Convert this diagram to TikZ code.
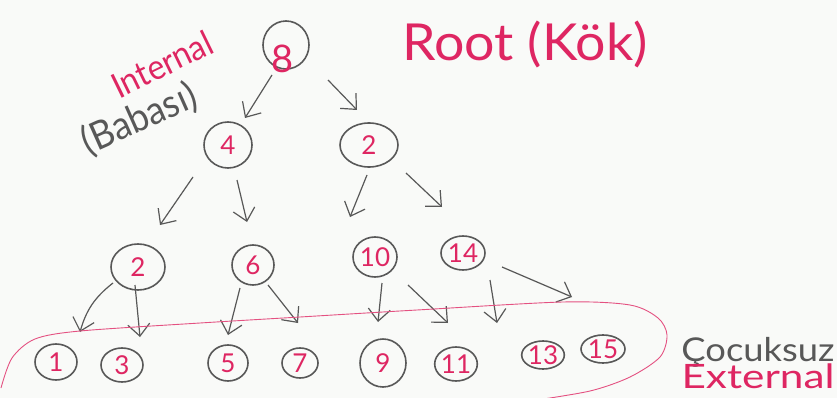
\documentclass[tikz,border=0pt]{standalone}
\usepackage{fontspec}
\usepackage{graphicx}
\setmainfont{Lato}
\usetikzlibrary{arrows.meta,shapes.geometric}
\definecolor{ink}{RGB}{222,38,98}
\definecolor{pencil}{RGB}{88,88,88}
\definecolor{paper}{RGB}{249,250,248}

\begin{document}
\begin{tikzpicture}[x=1pt,y=-1pt,
  nd/.style={ellipse, draw=pencil, line width=1.6pt, inner sep=0pt,
    text=ink, font=\fontsize{26}{26}\selectfont},
  arr/.style={draw=pencil, line width=1.2pt,
    -{Straight Barb[length=12pt,width=22pt]}},
  hand/.style={inner sep=0pt, anchor=center},
]
% sheet of paper
\fill[paper] (0,0) rectangle (837,398);
\useasboundingbox (0,0) rectangle (837,398);

% root, its digit written low across the circle
\node[nd, minimum width=46, minimum height=48] (n8) at (286,45)
  {\raisebox{-28pt}[0pt][0pt]{\hspace*{-6pt}\fontsize{38}{38}\selectfont 8}};
% level 1
\node[nd, minimum width=48, minimum height=46] (n4)  at (228,145) {4};
\node[nd, minimum width=58, minimum height=44] (n2a) at (369,145) {2};
% level 2
\node[nd, minimum width=54, minimum height=46] (n2b) at (138,267) {2};
\node[nd, minimum width=42, minimum height=40] (n6)  at (253,265) {6};
\node[nd, minimum width=44, minimum height=40] (n10) at (375,257) {10};
\node[nd, minimum width=44, minimum height=34] (n14) at (463,253) {14};
% leaves
\node[nd, minimum width=42, minimum height=36] (n1)  at (56,362)  {1};
\node[nd, minimum width=42, minimum height=34] (n3)  at (122,365) {3};
\node[nd, minimum width=40, minimum height=36] (n5)  at (228,363) {5};
\node[nd, minimum width=36, minimum height=30] (n7)  at (300,363) {7};
\node[nd, minimum width=46, minimum height=48] (n9)  at (383,363) {9};
\node[nd, minimum width=40, minimum height=34] (n11) at (456,364) {11};
\node[nd, minimum width=34, minimum height=28] (n13) at (543,355) {13};
\node[nd, minimum width=44, minimum height=28] (n15) at (603,349) {15};

% edges
\draw[arr] ([shift={(-14,30)}]n8.center)  -- ([shift={(17,-27)}]n4.center);
\draw[arr] ([shift={(42,35)}]n8.center)   -- ([shift={(-12,-35)}]n2a.center);
\draw[arr] ([shift={(-35,32)}]n4.center)  -- ([shift={(22,-42)}]n2b.center);
\draw[arr] ([shift={(9,35)}]n4.center)    -- ([shift={(-6,-43)}]n6.center);
\draw[arr] ([shift={(-2,30)}]n2a.center)  -- ([shift={(-25,-40)}]n10.center);
\draw[arr] ([shift={(37,28)}]n2a.center)  -- ([shift={(-21,-46)}]n14.center);
\draw[arr] ([shift={(-25,16)}]n2b.center) to[bend right=18] ([shift={(24,-30)}]n1.center);
\draw[arr] ([shift={(-3,18)}]n2b.center)  -- ([shift={(18,-28)}]n3.center);
\draw[arr] ([shift={(-13,23)}]n6.center)  -- ([shift={(0,-28)}]n5.center);
\draw[arr] ([shift={(15,20)}]n6.center)   -- ([shift={(-2,-40)}]n7.center);
\draw[arr] ([shift={(7,26)}]n10.center)   -- ([shift={(-5,-41)}]n9.center);
\draw[arr] ([shift={(33,28)}]n10.center)  -- ([shift={(-8,-41)}]n11.center);
\draw[arr] ([shift={(27,27)}]n14.center)  -- ([shift={(-46,-32)}]n13.center);
\draw[arr] ([shift={(39,14)}]n14.center)  -- ([shift={(-31,-52)}]n15.center);

% outline around the leaves
\draw[ink!80, line width=0.9pt] plot[smooth, tension=0.5] coordinates {
  (1,388) (12,358) (35,339) (80,331) (200,323) (300,317) (417,310)
  (563,302) (630,305) (658,318) (667,335) (660,357) (630,377) (590,391) (530,401)};

% labels
\node[hand, text=ink] (root) at (525,44) {\resizebox*{245pt}{47pt}{Root (Kök)}};
\node[hand, text=ink, rotate=26] (intl) at (162,64) {\resizebox*{108pt}{26pt}{Internal}};
\node[hand, text=pencil, rotate=24] (baba) at (139,119) {\resizebox*{122pt}{36pt}{(Babası)}};
\node[hand, text=pencil] (cocuk) at (758,352) {\resizebox*{153pt}{30pt}{Çocuksuz}};
\node[hand, text=ink] (ext) at (758,376) {\resizebox*{153pt}{25pt}{External}};
\end{tikzpicture}
\end{document}
